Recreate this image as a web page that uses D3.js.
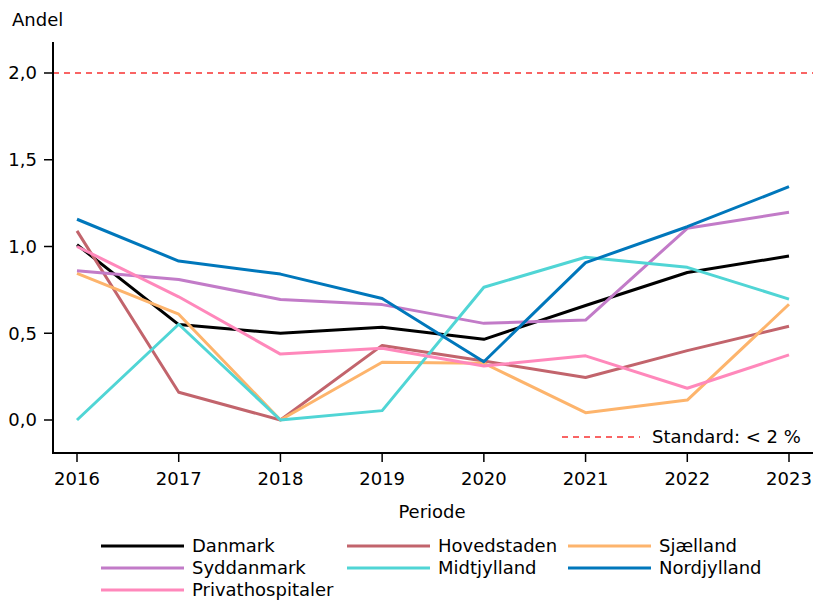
<!DOCTYPE html>
<html>
<head>
<meta charset="utf-8">
<script src="https://cdn.jsdelivr.net/npm/d3@7"></script>
<style>
  body { margin: 0; background: #fff; }
  svg text { font-family: "DejaVu Sans", sans-serif; fill: #000; }
</style>
</head>
<body>
<div id="chart"></div>
<script>
// Data
const years = [2016, 2017, 2018, 2019, 2020, 2021, 2022, 2023];
const danmark          = [1.01, 0.55, 0.50, 0.535, 0.465, 0.66, 0.85, 0.945];
const hovedstaden      = [1.09, 0.16, 0.00, 0.43, 0.34, 0.245, 0.40, 0.54];
const sjaelland        = [0.845, 0.61, 0.00, 0.333, 0.327, 0.042, 0.115, 0.667];
const syddanmark       = [0.86, 0.81, 0.695, 0.665, 0.557, 0.576, 1.105, 1.197];
const midtjylland      = [0.00, 0.552, 0.00, 0.054, 0.765, 0.938, 0.88, 0.697];
const nordjylland      = [1.157, 0.916, 0.841, 0.70, 0.336, 0.907, 1.114, 1.345];
const privathospitaler = [1.00, 0.71, 0.38, 0.413, 0.311, 0.37, 0.183, 0.375];
const standard = 2.0;
const yTicks = [0, 0.5, 1.0, 1.5, 2.0];

const series = [
  {name: "Danmark", values: danmark, color: "#000000"},
  {name: "Hovedstaden", values: hovedstaden, color: "#c2646c"},
  {name: "Sjælland", values: sjaelland, color: "#fdb46c"},
  {name: "Syddanmark", values: syddanmark, color: "#c27bc8"},
  {name: "Midtjylland", values: midtjylland, color: "#50d5d5"},
  {name: "Nordjylland", values: nordjylland, color: "#0077bb"},
  {name: "Privathospitaler", values: privathospitaler, color: "#ff88bb"}
];

const W = 813, H = 601;
const svg = d3.select("#chart").append("svg")
  .attr("width", W).attr("height", H);

// Scales
const x = d3.scaleLinear().domain([2016, 2023]).range([77, 789]);
const y = d3.scaleLinear().domain([0, 2]).range([420, 73]);
const axisTop = 42, axisBottom = 453, axisLeft = 53, axisRight = 813;

// Reference line
svg.append("line")
  .attr("x1", axisLeft).attr("x2", axisRight)
  .attr("y1", y(standard)).attr("y2", y(standard))
  .attr("stroke", "#f83232").attr("stroke-width", 1.6)
  .attr("stroke-dasharray", "6,5");

// Lines
const line = d3.line()
  .x((d, i) => x(years[i]))
  .y(d => y(d));

svg.selectAll(".series")
  .data(series)
  .enter()
  .append("path")
    .attr("class", "series")
    .attr("d", d => line(d.values))
    .attr("fill", "none")
    .attr("stroke", d => d.color)
    .attr("stroke-width", 3)
    .attr("stroke-linejoin", "round");

// Y axis
const yAxis = svg.append("g")
  .attr("transform", `translate(${axisLeft},0)`);
yAxis.append("line")
  .attr("y1", axisTop).attr("y2", axisBottom)
  .attr("stroke", "#000").attr("stroke-width", 2);
yAxis.selectAll(".tick")
  .data(yTicks)
  .enter()
  .append("g")
    .attr("transform", d => `translate(0,${y(d)})`)
    .each(function(d) {
      const g = d3.select(this);
      g.append("line").attr("x1", -9).attr("x2", 0)
        .attr("stroke", "#000").attr("stroke-width", 1.5);
      g.append("text").attr("x", -16).attr("dy", "0.35em")
        .attr("text-anchor", "end").style("font-size", "18px")
        .text(d3.format(".1f")(d).replace(".", ","));
    });

// X axis
const xAxis = svg.append("g")
  .attr("transform", `translate(0,${axisBottom})`);
xAxis.append("line")
  .attr("x1", axisLeft - 1).attr("x2", axisRight)
  .attr("stroke", "#000").attr("stroke-width", 2);
xAxis.selectAll(".tick")
  .data(years)
  .enter()
  .append("g")
    .attr("transform", d => `translate(${x(d)},0)`)
    .each(function(d) {
      const g = d3.select(this);
      g.append("line").attr("y1", 0).attr("y2", 9)
        .attr("stroke", "#000").attr("stroke-width", 1.5);
      g.append("text").attr("y", 26).attr("dy", "0.35em")
        .attr("text-anchor", "middle").style("font-size", "18px")
        .text(d);
    });

// Axis titles
svg.append("text")
  .attr("x", 12).attr("y", 26)
  .style("font-size", "18px")
  .text("Andel");
svg.append("text")
  .attr("x", 432).attr("y", 512).attr("dy", "0.35em")
  .attr("text-anchor", "middle")
  .style("font-size", "18px")
  .text("Periode");

// Standard legend
svg.append("line")
  .attr("x1", 562).attr("x2", 640)
  .attr("y1", 437).attr("y2", 437)
  .attr("stroke", "#f83232").attr("stroke-width", 1.6)
  .attr("stroke-dasharray", "6,5");
svg.append("text")
  .attr("x", 652).attr("y", 437).attr("dy", "0.35em")
  .style("font-size", "18px")
  .text("Standard: < 2 %");

// Series legend (3 columns, row-major)
const colX = [101, 347, 568];
const rowY = [546, 568, 590];
const legend = svg.selectAll(".legend-item")
  .data(series)
  .enter()
  .append("g")
    .attr("class", "legend-item")
    .attr("transform", (d, i) => `translate(${colX[i % 3]},${rowY[Math.floor(i / 3)]})`);
legend.append("line")
  .attr("x1", 0).attr("x2", 83)
  .attr("stroke", d => d.color).attr("stroke-width", 3);
legend.append("text")
  .attr("x", 91).attr("dy", "0.35em")
  .style("font-size", "18px")
  .text(d => d.name);
</script>
</body>
</html>
